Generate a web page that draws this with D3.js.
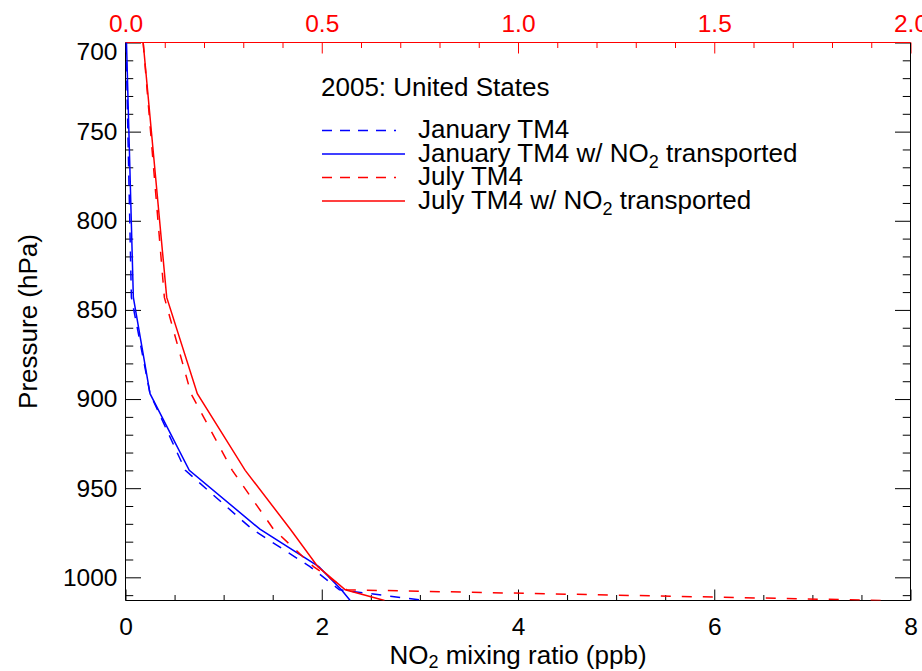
<!DOCTYPE html>
<html>
<head>
<meta charset="utf-8">
<script src="https://cdn.jsdelivr.net/npm/d3@7"></script>
<style>
  body { margin: 0; background: #fff; }
  svg { font-family: "Liberation Sans", Arial, Helvetica, sans-serif; }
</style>
</head>
<body>
<div id="chart"></div>
<script>
// DATA (pressure levels in hPa, mixing ratios in ppb)
const pressure = [700, 843, 897, 940, 973, 994, 1007, 1013]
// january -> bottom axis (0-8)
const janTM4 = [0.005, 0.06, 0.25, 0.61, 1.29, 1.88, 2.18, 3.05]
const janTransported = [0.01, 0.08, 0.25, 0.65, 1.37, 1.97, 2.20, 2.29]
// july -> top axis (0-2)
const julTM4 = [0.045, 0.099, 0.167, 0.272, 0.377, 0.479, 0.564, 1.94]
const julTransported = [0.045, 0.105, 0.183, 0.305, 0.42, 0.49, 0.56, 0.66]

const bottomTicks = [0, 2, 4, 6, 8]
const topTicks = [0, 0.5, 1.0, 1.5, 2.0]
const pressureTicks = [700, 750, 800, 850, 900, 950, 1000]

const legendTitle = "2005: United States"
const legendLabels = ["January TM4", "January TM4 w/ NO2 transported", "July TM4", "July TM4 w/ NO2 transported"]

// CONSTANTS
const width = 922
const height = 671
const plot = { left: 125.5, right: 910.5, top: 42.5, bottom: 600.5 }
const blue = "#0000ff"
const red = "#ff0000"
const fontSize = 24.5

const svg = d3.select("#chart").append("svg").attr("width", width).attr("height", height)

// SCALES
const x = d3.scaleLinear().domain([0, 8]).range([plot.left, plot.right])
const xTop = d3.scaleLinear().domain([0, 2]).range([plot.left, plot.right])
const y = d3.scaleLinear().domain([700, 1013]).range([plot.top, plot.bottom])

// AXES
const xLen = 11, yLen = 15.5

function styleAxis(g, color) {
    g.select(".domain").remove()
    g.selectAll("line").attr("stroke", color)
    g.selectAll("text").attr("fill", color).attr("font-size", fontSize).attr("font-family", null)
}

const minorBottom = d3.range(0, 8.01, 0.5).filter(v => v % 2 !== 0)
svg.append("g").attr("transform", `translate(0,${plot.bottom})`)
    .call(d3.axisBottom(x).tickValues(minorBottom).tickSize(-xLen / 2).tickFormat(""))
    .call(g => styleAxis(g, "#000"))
svg.append("g").attr("transform", `translate(0,${plot.bottom})`)
    .call(d3.axisBottom(x).tickValues(bottomTicks).tickSize(-xLen).tickPadding(17).tickFormat(d3.format("d")))
    .call(g => styleAxis(g, "#000"))

const minorTop = d3.range(0, 2.001, 0.1).map(v => +v.toFixed(1)).filter(v => Math.round(v * 10) % 5 !== 0)
svg.append("g").attr("transform", `translate(0,${plot.top})`)
    .call(d3.axisTop(xTop).tickValues(minorTop).tickSize(-xLen / 2).tickFormat(""))
    .call(g => styleAxis(g, red))
svg.append("g").attr("transform", `translate(0,${plot.top})`)
    .call(d3.axisTop(xTop).tickValues(topTicks).tickSize(-xLen).tickPadding(11).tickFormat(d3.format(".1f")))
    .call(g => styleAxis(g, red))

const minorP = d3.range(710, 1013, 10).filter(v => v % 50 !== 0)
svg.append("g").attr("transform", `translate(${plot.left},0)`)
    .call(d3.axisLeft(y).tickValues(minorP).tickSize(-yLen / 2).tickFormat(""))
    .call(g => styleAxis(g, "#000"))
const leftAxis = svg.append("g").attr("transform", `translate(${plot.left},0)`)
    .call(d3.axisLeft(y).tickValues(pressureTicks).tickSize(-yLen).tickPadding(8).tickFormat(d3.format("d")))
    .call(g => styleAxis(g, "#000"))
// first label sits a bit lower
leftAxis.selectAll(".tick").filter(d => d === 700).select("text").attr("y", 9)

svg.append("g").attr("transform", `translate(${plot.right},0)`)
    .call(d3.axisRight(y).tickValues(minorP).tickSize(-yLen / 2).tickFormat(""))
    .call(g => styleAxis(g, "#000"))
svg.append("g").attr("transform", `translate(${plot.right},0)`)
    .call(d3.axisRight(y).tickValues(pressureTicks).tickSize(-yLen).tickFormat(""))
    .call(g => styleAxis(g, "#000"))

// FRAME
svg.append("line").attr("x1", plot.left).attr("x2", plot.right).attr("y1", plot.bottom).attr("y2", plot.bottom).attr("stroke", "#000")
svg.append("line").attr("x1", plot.left).attr("x2", plot.left).attr("y1", plot.top).attr("y2", plot.bottom).attr("stroke", "#000")
svg.append("line").attr("x1", plot.right).attr("x2", plot.right).attr("y1", plot.top).attr("y2", plot.bottom).attr("stroke", "#000")
svg.append("line").attr("x1", plot.left).attr("x2", plot.right).attr("y1", plot.top).attr("y2", plot.top).attr("stroke", red)

// LINES
svg.append("clipPath").attr("id", "clip").append("rect")
    .attr("x", plot.left).attr("y", plot.top).attr("width", plot.right - plot.left).attr("height", plot.bottom - plot.top)
const lines = svg.append("g").attr("clip-path", "url(#clip)")

const series = [
    { values: janTM4, scale: x, color: blue, dash: "10,9" },
    { values: janTransported, scale: x, color: blue, dash: null },
    { values: julTM4, scale: xTop, color: red, dash: "10,11" },
    { values: julTransported, scale: xTop, color: red, dash: null }
]

series.forEach(s => {
    lines.append("path")
        .datum(pressure.map((p, i) => [s.values[i], p]))
        .attr("fill", "none")
        .attr("stroke", s.color)
        .attr("stroke-width", 1.5)
        .attr("stroke-dasharray", s.dash)
        .attr("d", d3.line().x(d => s.scale(d[0])).y(d => y(d[1])))
})

// LEGEND
function addNO2Text(sel, str, subSize, shift) {
    const parts = str.split("NO2")
    sel.append("tspan").text(parts[0] + (parts.length > 1 ? "NO" : ""))
    if (parts.length > 1) {
        sel.append("tspan").attr("font-size", subSize).attr("dy", shift).text("2")
        sel.append("tspan").attr("dy", -shift).text(parts[1])
    }
}

const legend = svg.append("g")
legend.append("text").attr("x", 321).attr("y", 96).attr("font-size", 26).text(legendTitle)
const rowY = [130.5, 154, 177.5, 201]
legendLabels.forEach((label, i) => {
    const s = series[i]
    legend.append("line")
        .attr("x1", 322).attr("x2", s.dash ? 396 : 405)
        .attr("y1", rowY[i]).attr("y2", rowY[i])
        .attr("stroke", s.color).attr("stroke-width", 1.5)
        .attr("stroke-dasharray", s.dash ? "10,8" : null)
    legend.append("text").attr("x", 418).attr("y", rowY[i] + 7.5).attr("font-size", 26)
        .call(t => addNO2Text(t, label, 18, 6))
})

// AXIS TITLES
svg.append("text").attr("x", (plot.left + plot.right) / 2).attr("y", 664)
    .attr("text-anchor", "middle").attr("font-size", 26)
    .call(t => addNO2Text(t, "NO2 mixing ratio (ppb)", 18, 4))
svg.append("text").attr("transform", `translate(37,${(plot.top + plot.bottom) / 2}) rotate(-90)`)
    .attr("text-anchor", "middle").attr("font-size", 26)
    .text("Pressure (hPa)")
</script>
</body>
</html>
